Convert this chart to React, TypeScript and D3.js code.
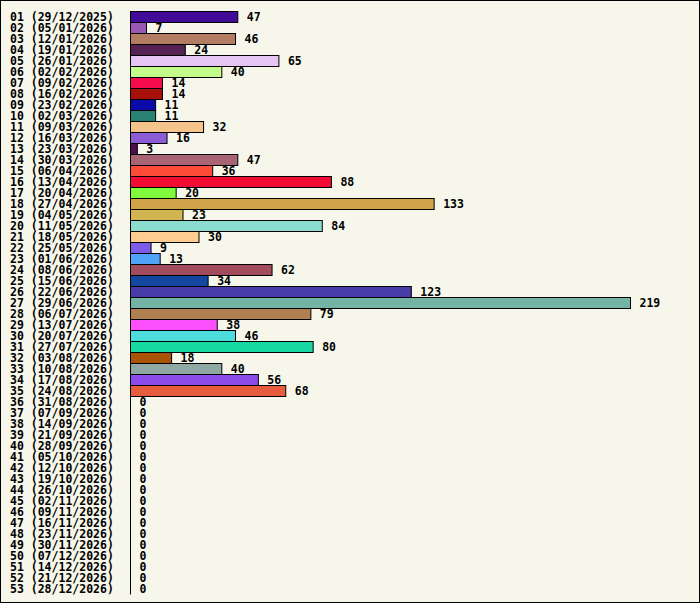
import { useEffect, useRef } from 'react';
import * as d3 from 'd3';

// Weekly counts, one row per ISO week
const weekLabels = [
  '01 (29/12/2025)', '02 (05/01/2026)', '03 (12/01/2026)', '04 (19/01/2026)',
  '05 (26/01/2026)', '06 (02/02/2026)', '07 (09/02/2026)', '08 (16/02/2026)',
  '09 (23/02/2026)', '10 (02/03/2026)', '11 (09/03/2026)', '12 (16/03/2026)',
  '13 (23/03/2026)', '14 (30/03/2026)', '15 (06/04/2026)', '16 (13/04/2026)',
  '17 (20/04/2026)', '18 (27/04/2026)', '19 (04/05/2026)', '20 (11/05/2026)',
  '21 (18/05/2026)', '22 (25/05/2026)', '23 (01/06/2026)', '24 (08/06/2026)',
  '25 (15/06/2026)', '26 (22/06/2026)', '27 (29/06/2026)', '28 (06/07/2026)',
  '29 (13/07/2026)', '30 (20/07/2026)', '31 (27/07/2026)', '32 (03/08/2026)',
  '33 (10/08/2026)', '34 (17/08/2026)', '35 (24/08/2026)', '36 (31/08/2026)',
  '37 (07/09/2026)', '38 (14/09/2026)', '39 (21/09/2026)', '40 (28/09/2026)',
  '41 (05/10/2026)', '42 (12/10/2026)', '43 (19/10/2026)', '44 (26/10/2026)',
  '45 (02/11/2026)', '46 (09/11/2026)', '47 (16/11/2026)', '48 (23/11/2026)',
  '49 (30/11/2026)', '50 (07/12/2026)', '51 (14/12/2026)', '52 (21/12/2026)',
  '53 (28/12/2026)',
];

const weekValues = [
  47, 7, 46, 24, 65, 40, 14, 14, 11, 11, 32, 16, 3, 47, 36, 88, 20, 133, 23, 84,
  30, 9, 13, 62, 34, 123, 219, 79, 38, 46, 80, 18, 40, 56, 68,
  0, 0, 0, 0, 0, 0, 0, 0, 0, 0, 0, 0, 0, 0, 0, 0, 0, 0,
];

const barColors = [
  '#430c98', '#9b59b6', '#b27d63', '#552254', '#e6c4f4', '#c4fc8c', '#f40c4c',
  '#a8100c', '#0a0aa8', '#2a8272', '#f5c48a', '#8c5cd4', '#4c1050', '#a86472',
  '#fc4c38', '#f20c34', '#80fa3c', '#d0a44a', '#d2b452', '#8cdcd0', '#fccc90',
  '#7c5ce8', '#50a4f8', '#a04c5c', '#1448a0', '#483ca8', '#74b4a4', '#b08050',
  '#fc50fc', '#4cdcdc', '#18d8a4', '#a85404', '#90a8a4', '#8c4cec', '#e65c3c',
];

const WIDTH = 700;
const HEIGHT = 603;

export default function App() {
  const svgRef = useRef<SVGSVGElement>(null);

  useEffect(() => {
    document.body.style.margin = '0';
    if (!svgRef.current) return;

    const svg = d3.select(svgRef.current);
    svg.selectAll('*').remove();

    const left = 130.5;
    const top = 11.5;
    const rowH = 11;

    const x = d3.scaleLinear().domain([0, 219]).range([0, 500]);
    const y = d3
      .scaleBand<string>()
      .domain(weekLabels)
      .range([top, top + rowH * weekLabels.length]);

    svg.append('rect')
      .attr('x', 0.5)
      .attr('y', 0.5)
      .attr('width', WIDTH - 1)
      .attr('height', HEIGHT - 1)
      .attr('fill', '#f6f6ea')
      .attr('stroke', '#000');

    const font = '"DejaVu Sans Mono", "Liberation Mono", monospace';

    // axis line
    svg.append('line')
      .attr('x1', left)
      .attr('x2', left)
      .attr('y1', top - 0.5)
      .attr('y2', top + rowH * weekLabels.length)
      .attr('stroke', '#000');

    weekLabels.forEach((label, i) => {
      const v = weekValues[i];
      const yPos = y(label) ?? 0;

      svg.append('text')
        .attr('x', 10)
        .attr('y', yPos + 9.5)
        .attr('font-family', font)
        .attr('font-weight', 'bold')
        .attr('font-size', '11.5px')
        .attr('fill', '#000')
        .text(label);

      if (v > 0) {
        svg.append('rect')
          .attr('x', left)
          .attr('y', yPos)
          .attr('width', x(v))
          .attr('height', rowH)
          .attr('fill', barColors[i % barColors.length])
          .attr('stroke', '#000');
      }

      svg.append('text')
        .attr('x', left + x(v) + 9)
        .attr('y', yPos + 9.5)
        .attr('font-family', font)
        .attr('font-weight', 'bold')
        .attr('font-size', '11.5px')
        .attr('fill', '#000')
        .text(String(v));
    });
  }, []);

  return <svg ref={svgRef} width={WIDTH} height={HEIGHT} style={{ display: 'block' }} />;
}
